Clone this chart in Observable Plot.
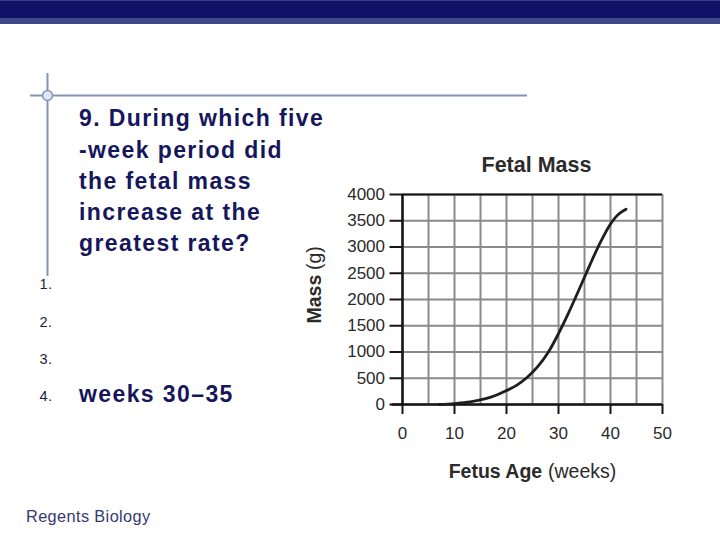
<!DOCTYPE html>
<html>
<head>
<meta charset="utf-8">
<script src="https://cdn.jsdelivr.net/npm/d3@7"></script>
<script src="https://cdn.jsdelivr.net/npm/@observablehq/plot@0.6"></script>
<style>
  html, body { margin: 0; padding: 0; background: #fff; }
  #slide { position: relative; width: 720px; height: 540px; overflow: hidden; background: #fff;
           font-family: "Liberation Sans", Arial, Helvetica, sans-serif; }
  #deco { position: absolute; left: 0; top: 0; }
  #chart { position: absolute; left: 300px; top: 140px; }
</style>
</head>
<body>
<div id="slide">
  <svg id="deco" width="720" height="540">
    <rect x="0" y="0" width="720" height="18" fill="#111167"></rect>
    <rect x="0" y="0" width="720" height="1" fill="#3a3f8a"></rect>
    <rect x="0" y="18" width="720" height="6" fill="#404a8b"></rect>
    <line x1="47.5" y1="73" x2="47.5" y2="276" stroke="#8393bb" stroke-width="2"></line>
    <line x1="30" y1="95.5" x2="527" y2="95.5" stroke="#8393bb" stroke-width="2"></line>
    <circle cx="47.5" cy="95.5" r="5" fill="#dfe6f4" stroke="#8393bb" stroke-width="1.5"></circle>
    <g font-family="Liberation Sans, Arial, sans-serif" font-weight="bold" font-size="23" fill="#16165c" letter-spacing="1.4">
      <text x="79" y="126">9. During which five</text>
      <text x="79" y="158">-week period did</text>
      <text x="79" y="189">the fetal mass</text>
      <text x="79" y="220">increase at the</text>
      <text x="79" y="251">greatest rate?</text>
      <text x="79" y="401.5">weeks 30–35</text>
    </g>
    <g font-family="Liberation Sans, Arial, sans-serif" font-size="14.5" fill="#1c1c3c" letter-spacing="0.5">
      <text x="39.5" y="289.3">1.</text>
      <text x="39.5" y="326.5">2.</text>
      <text x="39.5" y="364.3">3.</text>
      <text x="39.5" y="400.7">4.</text>
    </g>
    <text x="26" y="522.3" font-family="Liberation Sans, Arial, sans-serif" font-size="16.3" fill="#34396f" letter-spacing="0.4">Regents Biology</text>
  </svg>
  <div id="chart"></div>
</div>
<script>
// Fetal Mass data
const weeks = [7, 10, 13, 16, 18, 20, 22, 24, 26, 28, 30, 32, 34, 36, 38, 40, 41, 42, 43];
const mass  = [0, 18, 48, 110, 175, 265, 370, 520, 720, 990, 1350, 1760, 2200, 2650, 3080, 3440, 3570, 3660, 3720];
const xTicks = [0, 10, 20, 30, 40, 50];
const xGrid = [0, 5, 10, 15, 20, 25, 30, 35, 40, 45, 50];
const yTicks = [0, 500, 1000, 1500, 2000, 2500, 3000, 3500, 4000];
const chartTitle = "Fetal Mass";
const yLabelMain = "Mass";
const yLabelUnit = "(g)";
const xLabelMain = "Fetus Age";
const xLabelUnit = "(weeks)";

const data = weeks.map((w, i) => ({week: w, mass: mass[i]}));

const chart = Plot.plot({
  width: 380,
  height: 350,
  marginLeft: 102,
  marginRight: 18,
  marginTop: 54,
  marginBottom: 86,
  x: {domain: [0, 50]},
  y: {domain: [0, 4000]},
  style: {background: "none", fontFamily: "Liberation Sans, Arial, sans-serif", fontSize: "17px", color: "#2a2a2a"},
  marks: [
    Plot.ruleX(xGrid, {stroke: "#8a8a8a", strokeWidth: 2}),
    Plot.ruleY(yTicks, {stroke: "#8a8a8a", strokeWidth: 2}),
    Plot.ruleY([4000], {stroke: "#151515", strokeWidth: 2.2}),
    Plot.ruleX([0], {stroke: "#151515", strokeWidth: 2.5}),
    Plot.ruleY([0], {x1: -2, x2: 50, stroke: "#151515", strokeWidth: 2.5}),
    Plot.axisY({ticks: yTicks, tickSize: 12.5, tickPadding: 5, strokeWidth: 2, stroke: "#151515", tickFormat: d => String(d), label: null}),
    Plot.axisX({ticks: xTicks, tickSize: 10, tickPadding: 12.5, strokeWidth: 2, stroke: "#151515", tickFormat: d => String(d), label: null}),
    Plot.line(data, {x: "week", y: "mass", curve: "catmull-rom", stroke: "#1e1e1e", strokeWidth: 2.8}),
    Plot.text([chartTitle], {text: d => d, frameAnchor: "top", dx: 4, dy: -22.5, lineAnchor: "bottom", fontSize: 21.5, fontWeight: "bold", fill: "#2b2b2b"}),
    Plot.text([yLabelMain], {text: d => d, frameAnchor: "left", rotate: -90, textAnchor: "start", lineAnchor: "bottom", dx: -82, dy: 24, fontSize: 19.5, fontWeight: "bold", fill: "#2b2b2b"}),
    Plot.text([yLabelUnit], {text: d => d, frameAnchor: "left", rotate: -90, textAnchor: "end", lineAnchor: "bottom", dx: -82, dy: -53.3, fontSize: 19.5, fill: "#2b2b2b"}),
    Plot.text([xLabelMain], {text: d => d, frameAnchor: "bottom", textAnchor: "end", lineAnchor: "bottom", dx: 9.7, dy: 73.7, fontSize: 19.5, fontWeight: "bold", fill: "#2b2b2b"}),
    Plot.text([xLabelUnit], {text: d => d, frameAnchor: "bottom", textAnchor: "start", lineAnchor: "bottom", dx: 15.5, dy: 73.7, fontSize: 19.5, fill: "#2b2b2b"})
  ]
});
document.getElementById("chart").appendChild(chart);
</script>
</body>
</html>
